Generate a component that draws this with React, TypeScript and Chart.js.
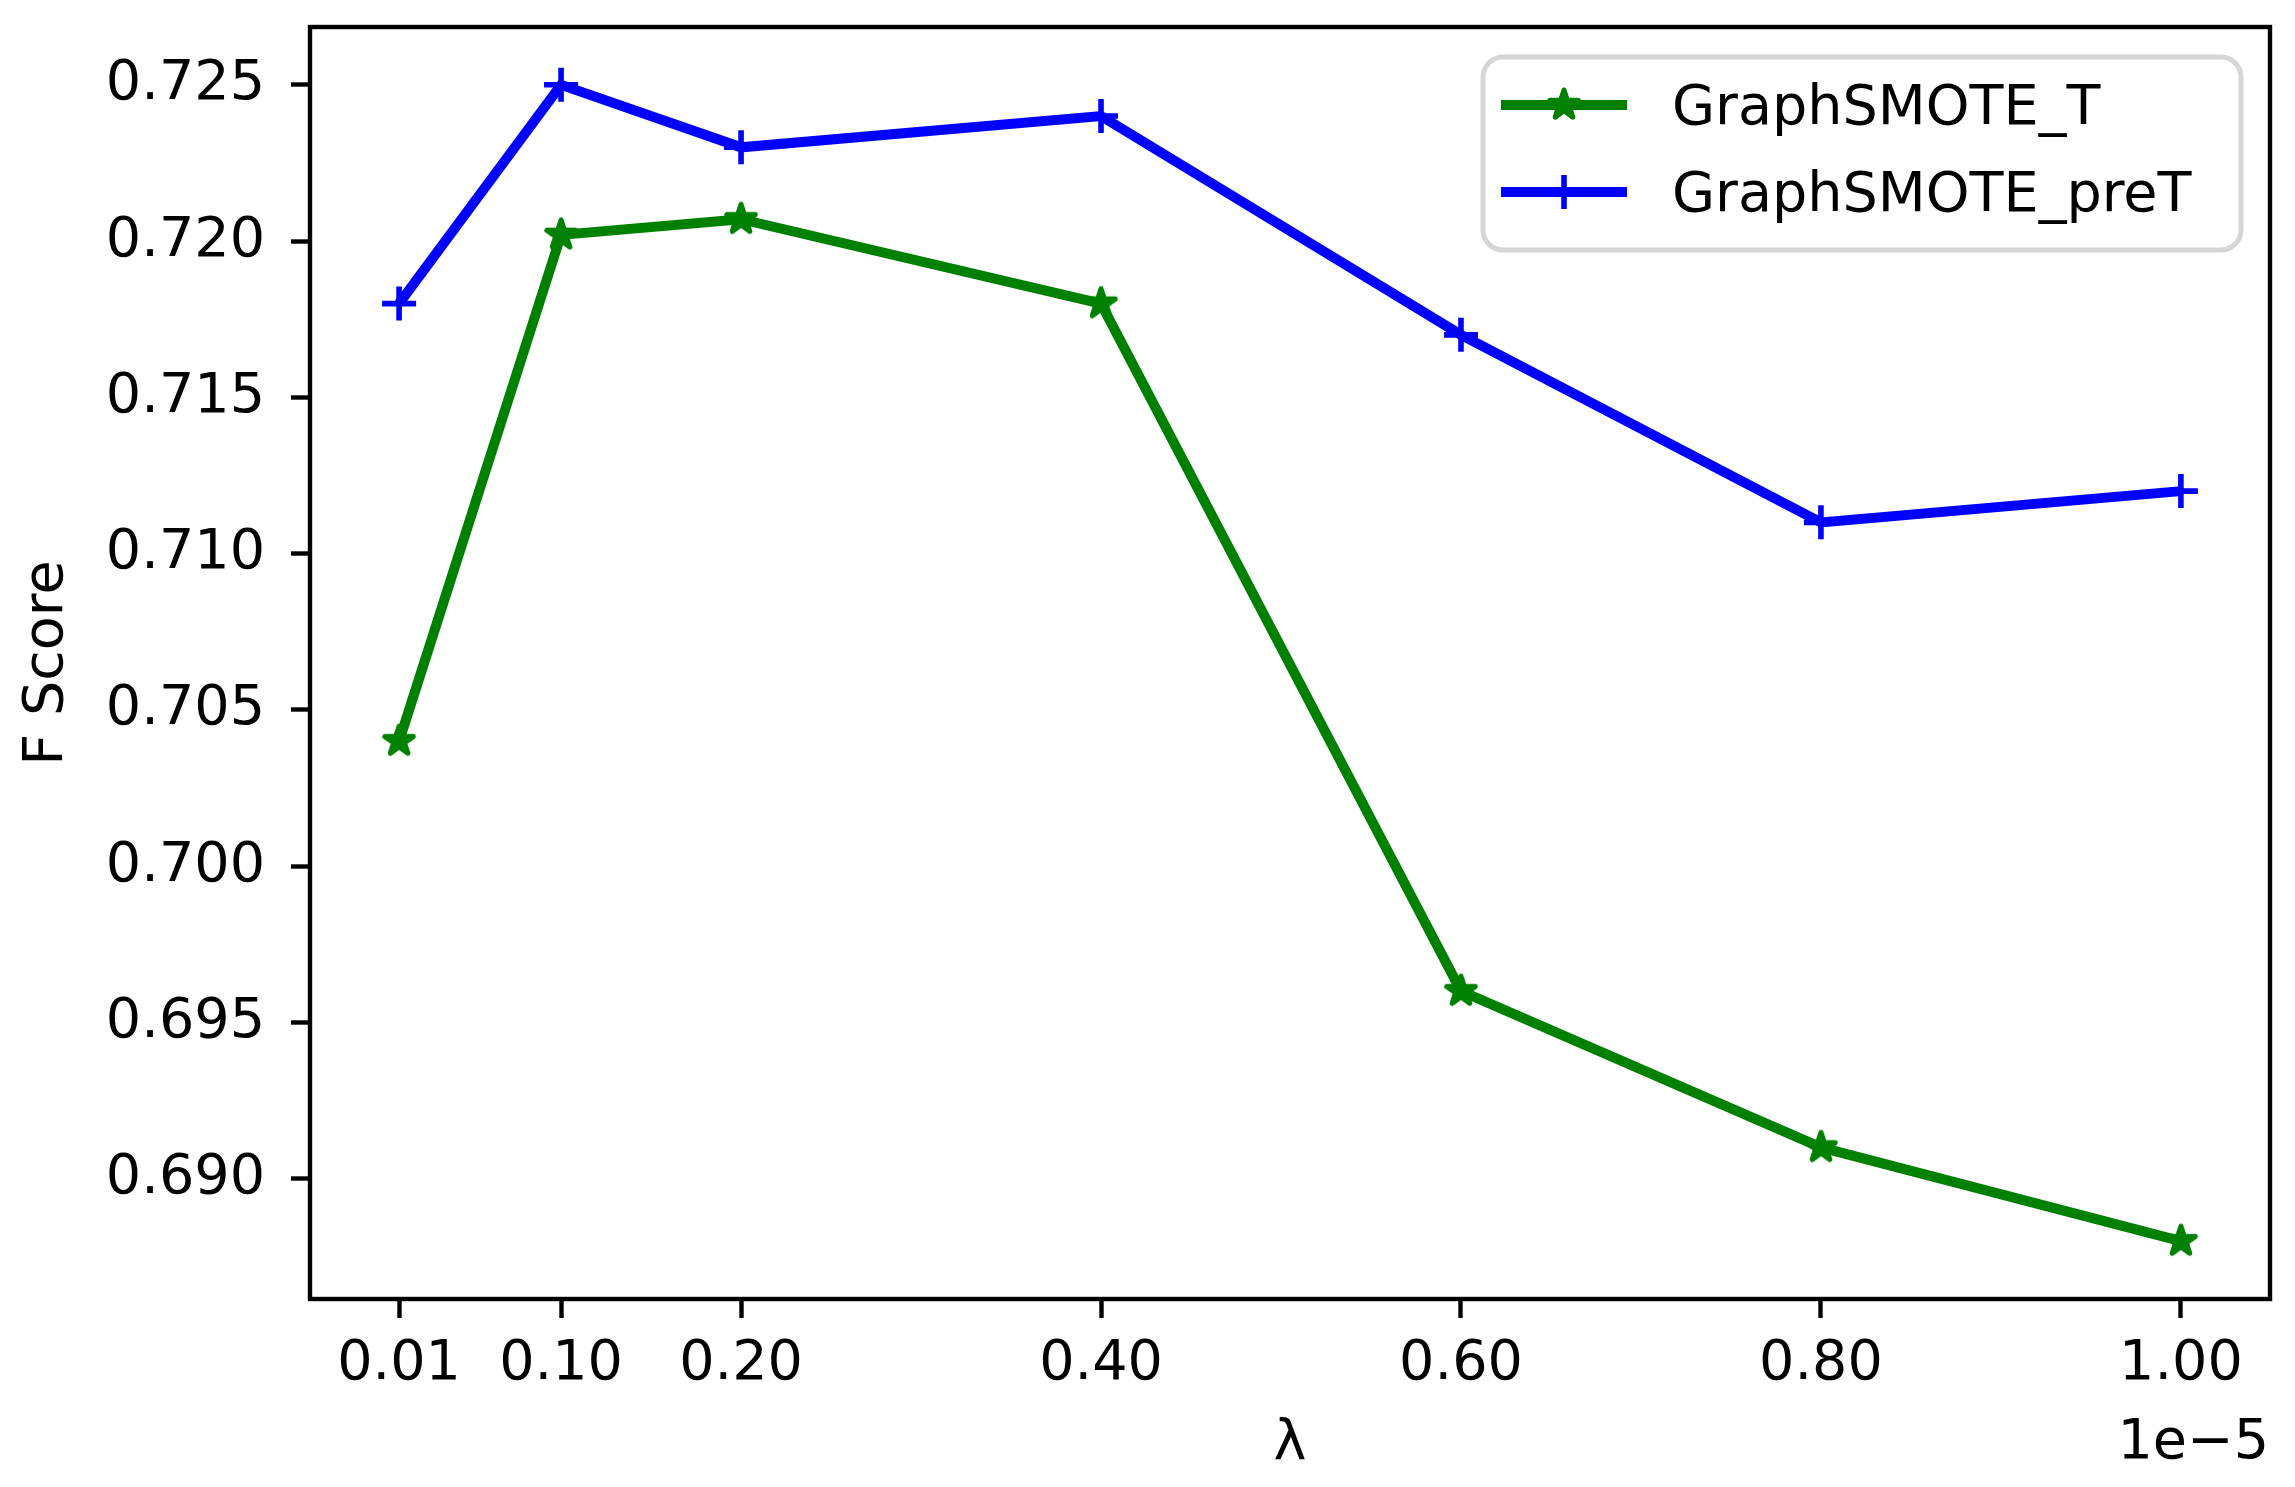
import React, { useEffect, useRef } from "react";
import { Chart, registerables } from "chart.js";

Chart.register(...registerables);

// lambda values (x1e-5)
const lambdas = [0.01, 0.1, 0.2, 0.4, 0.6, 0.8, 1.0];
const fScoreT = [0.704, 0.7202, 0.7207, 0.718, 0.696, 0.691, 0.688];
const fScorePreT = [0.718, 0.725, 0.723, 0.724, 0.717, 0.711, 0.712];
const xTickValues = [0.01, 0.1, 0.2, 0.4, 0.6, 0.8, 1.0];
const yTickValues = [0.69, 0.695, 0.7, 0.705, 0.71, 0.715, 0.72, 0.725];

const W = 2295;
const H = 1487;
const FONT = "DejaVu Sans";
const FS = 55.6;

const makeStar = (color: string) => {
  const c = document.createElement("canvas");
  c.width = 48;
  c.height = 48;
  const g = c.getContext("2d")!;
  const outer = 15;
  const inner = outer * 0.382;
  g.beginPath();
  for (let i = 0; i < 10; i++) {
    const r = i % 2 === 0 ? outer : inner;
    const a = -Math.PI / 2 + (i * Math.PI) / 5;
    const px = 24 + r * Math.cos(a);
    const py = 24 + r * Math.sin(a);
    if (i === 0) g.moveTo(px, py);
    else g.lineTo(px, py);
  }
  g.closePath();
  g.fillStyle = color;
  g.fill();
  g.lineWidth = 5;
  g.lineJoin = "round";
  g.strokeStyle = color;
  g.stroke();
  return c;
};

const framePlugin = {
  id: "frame",
  afterDraw(chart: any) {
    const { ctx, chartArea } = chart;
    const { left, top, right, bottom } = chartArea;
    ctx.save();
    ctx.strokeStyle = "#000";
    ctx.lineWidth = 4.4;
    ctx.strokeRect(left, top, right - left, bottom - top);

    // offset text
    ctx.fillStyle = "#000";
    ctx.font = `${FS}px "${FONT}"`;
    ctx.textAlign = "right";
    ctx.textBaseline = "alphabetic";
    ctx.fillText("1e\u22125", 2269, 1458);

    // legend
    const bx = 1483, by = 57, bw = 758, bh = 193, r = 20;
    ctx.beginPath();
    ctx.moveTo(bx + r, by);
    ctx.arcTo(bx + bw, by, bx + bw, by + bh, r);
    ctx.arcTo(bx + bw, by + bh, bx, by + bh, r);
    ctx.arcTo(bx, by + bh, bx, by, r);
    ctx.arcTo(bx, by, bx + bw, by, r);
    ctx.closePath();
    ctx.fillStyle = "rgba(255,255,255,0.8)";
    ctx.fill();
    ctx.lineWidth = 5;
    ctx.strokeStyle = "#d6d6d6";
    ctx.stroke();

    const rows = [105, 192];
    chart.data.datasets.forEach((ds: any, i: number) => {
      const y = rows[i];
      ctx.strokeStyle = ds.borderColor;
      ctx.lineWidth = ds.borderWidth;
      ctx.lineCap = "butt";
      ctx.beginPath();
      ctx.moveTo(1501, y);
      ctx.lineTo(1627, y);
      ctx.stroke();
      if (ds.pointStyle instanceof HTMLCanvasElement) {
        const img = ds.pointStyle;
        ctx.drawImage(img, 1564 - img.width / 2, y - img.height / 2);
      } else {
        ctx.lineWidth = ds.pointBorderWidth;
        ctx.beginPath();
        ctx.moveTo(1564, y - ds.pointRadius);
        ctx.lineTo(1564, y + ds.pointRadius);
        ctx.moveTo(1564 - ds.pointRadius, y);
        ctx.lineTo(1564 + ds.pointRadius, y);
        ctx.stroke();
      }
      ctx.fillStyle = "#000";
      ctx.textAlign = "left";
      ctx.textBaseline = "alphabetic";
      ctx.fillText(ds.label, 1672, y + 19);
    });
    ctx.restore();
  },
};

const App = () => {
  const chartRef = useRef<HTMLCanvasElement | null>(null);

  useEffect(() => {
    const ctx = chartRef.current!.getContext("2d")!;
    const star = makeStar("#008000");
    const myChart = new Chart(ctx, {
      type: "line",
      data: {
        datasets: [
          {
            label: "GraphSMOTE_T",
            data: lambdas.map((x, i) => ({ x, y: fScoreT[i] })),
            borderColor: "#008000",
            backgroundColor: "#008000",
            borderWidth: 10,
            pointStyle: star as any,
            pointRadius: 18,
            pointBackgroundColor: "#008000",
            pointBorderColor: "#008000",
            pointBorderWidth: 0,
            tension: 0,
          },
          {
            label: "GraphSMOTE_preT",
            data: lambdas.map((x, i) => ({ x, y: fScorePreT[i] })),
            borderColor: "#0000ff",
            backgroundColor: "#0000ff",
            borderWidth: 10,
            pointStyle: "cross",
            pointRadius: 17,
            pointBorderColor: "#0000ff",
            pointBorderWidth: 5.6,
            tension: 0,
          },
        ],
      },
      options: {
        animation: false,
        responsive: false,
        devicePixelRatio: 1,
        layout: { padding: { left: 0, right: 25, top: 27, bottom: 0 } },
        plugins: {
          legend: { display: false },
          tooltip: { enabled: false },
        },
        scales: {
          x: {
            type: "linear",
            min: -0.0395,
            max: 1.0495,
            afterBuildTicks: (scale: any) => {
              scale.ticks = xTickValues.map((value) => ({ value }));
            },
            afterFit: (scale: any) => {
              scale.height = H - 1299;
              scale.paddingLeft = 0;
              scale.paddingRight = 0;
            },
            ticks: {
              color: "#000",
              font: { family: FONT, size: FS },
              padding: 13,
              maxRotation: 0,
              autoSkip: false,
              callback: (v: any) => Number(v).toFixed(2),
            },
            grid: {
              display: true,
              drawOnChartArea: false,
              drawTicks: true,
              tickLength: 19,
              tickWidth: 4.4,
              tickColor: "#000",
            },
            border: { display: false },
            title: {
              display: true,
              text: "\u03bb",
              color: "#000",
              font: { family: FONT, size: FS },
              padding: { top: 0, bottom: 9 },
            },
          },
          y: {
            type: "linear",
            min: 0.68615,
            max: 0.72685,
            afterBuildTicks: (scale: any) => {
              scale.ticks = yTickValues.map((value) => ({ value }));
            },
            afterFit: (scale: any) => {
              scale.width = 310;
              scale.paddingTop = 0;
              scale.paddingBottom = 0;
            },
            ticks: {
              color: "#000",
              font: { family: FONT, size: FS },
              padding: 26,
              autoSkip: false,
              callback: (v: any) => Number(v).toFixed(3),
            },
            grid: {
              display: true,
              drawOnChartArea: false,
              drawTicks: true,
              tickLength: 19,
              tickWidth: 4.4,
              tickColor: "#000",
            },
            border: { display: false },
            title: {
              display: true,
              text: "F Score",
              color: "#000",
              font: { family: FONT, size: FS },
              padding: { top: 14, bottom: 0 },
            },
          },
        },
      },
      plugins: [framePlugin],
    });

    return () => {
      myChart.destroy();
    };
  }, []);

  return (
    <div style={{ position: "absolute", left: 0, top: 0, width: W, height: H, background: "#fff" }}>
      <canvas ref={chartRef} width={W} height={H}></canvas>
    </div>
  );
};

export default App;
